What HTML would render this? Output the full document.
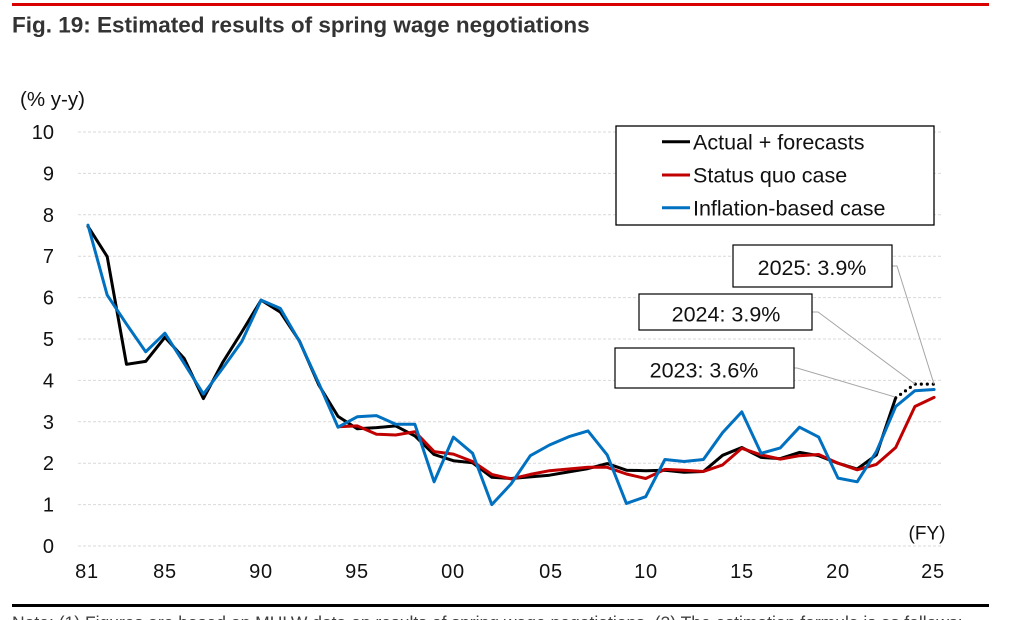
<!DOCTYPE html>
<html>
<head>
<meta charset="utf-8">
<style>
  html, body { margin: 0; padding: 0; background: #fff; }
  body { width: 1024px; height: 620px; overflow: hidden; }
  svg { display: block; }
  text { font-family: "Liberation Sans", Arial, sans-serif; }
</style>
</head>
<body>
<svg width="1024" height="620" viewBox="0 0 1024 620" xmlns="http://www.w3.org/2000/svg">
  <rect x="0" y="0" width="1024" height="620" fill="#fff"/>
  <!-- top red bar -->
  <rect x="12" y="3" width="977" height="3" fill="#d90000"/>
  <!-- title -->
  <text x="12" y="32.5" font-size="22.5" font-weight="bold" fill="#333">Fig. 19: Estimated results of spring wage negotiations</text>

  <!-- y-axis unit -->
  <text x="20" y="106" font-size="20.5" fill="#111">(% y-y)</text>

  <!-- gridlines -->
  <g stroke="#d9d9d9" stroke-width="1" stroke-dasharray="3 2">
    <line x1="78" y1="132" x2="943" y2="132"/>
    <line x1="78" y1="173.4" x2="943" y2="173.4"/>
    <line x1="78" y1="214.8" x2="943" y2="214.8"/>
    <line x1="78" y1="256.2" x2="943" y2="256.2"/>
    <line x1="78" y1="297.6" x2="943" y2="297.6"/>
    <line x1="78" y1="339" x2="943" y2="339"/>
    <line x1="78" y1="380.4" x2="943" y2="380.4"/>
    <line x1="78" y1="421.8" x2="943" y2="421.8"/>
    <line x1="78" y1="463.2" x2="943" y2="463.2"/>
    <line x1="78" y1="504.6" x2="943" y2="504.6"/>
    <line x1="78" y1="546" x2="943" y2="546"/>
  </g>

  <!-- y labels -->
  <g font-size="20" fill="#111" text-anchor="end">
    <text x="54" y="139">10</text>
    <text x="54" y="180.4">9</text>
    <text x="54" y="221.8">8</text>
    <text x="54" y="263.2">7</text>
    <text x="54" y="304.6">6</text>
    <text x="54" y="346">5</text>
    <text x="54" y="387.4">4</text>
    <text x="54" y="428.8">3</text>
    <text x="54" y="470.2">2</text>
    <text x="54" y="511.6">1</text>
    <text x="54" y="553">0</text>
  </g>

  <!-- x labels -->
  <g font-size="20" fill="#111" text-anchor="middle" letter-spacing="0.8">
    <text x="87" y="578">81</text>
    <text x="165" y="578">85</text>
    <text x="261" y="578">90</text>
    <text x="357" y="578">95</text>
    <text x="453" y="578">00</text>
    <text x="551" y="578">05</text>
    <text x="646" y="578">10</text>
    <text x="742" y="578">15</text>
    <text x="838" y="578">20</text>
    <text x="933" y="578">25</text>
  </g>
  <text x="927" y="539.5" font-size="19" fill="#111" text-anchor="middle">(FY)</text>

  <!-- series -->
  <g fill="none" stroke-width="3" stroke-linejoin="round" stroke-linecap="round">
    <polyline stroke="#000" points="88.0,226.4 107.2,256.6 126.5,364.3 145.7,361.4 164.9,337.3 184.2,358.5 203.4,398.6 222.6,362.6 241.8,332.0 261.1,300.1 280.3,312.1 299.5,341.1 318.8,385.0 338.0,416.4 357.2,428.8 376.5,427.6 395.7,425.9 414.9,435.9 434.1,454.5 453.4,460.7 472.6,462.8 491.8,477.3 511.1,478.5 530.3,476.9 549.5,475.2 568.8,471.9 588.0,468.6 607.2,463.6 626.4,470.2 645.7,470.7 664.9,470.2 684.1,472.3 703.4,471.5 722.6,455.3 741.8,447.5 761.1,457.4 780.3,458.6 799.5,452.4 818.7,455.7 838.0,463.2 857.2,469.0 876.4,454.9 895.7,397.8"/>
    <polyline stroke="#000" stroke-width="3.2" stroke-dasharray="0 6" points="895.7,397.8 914.9,384.1 934.1,384.1"/>
    <polyline stroke="#c00000" points="338.0,426.8 357.2,425.9 376.5,434.2 395.7,435.0 414.9,431.7 434.1,451.6 453.4,454.1 472.6,461.5 491.8,474.4 511.1,478.9 530.3,474.4 549.5,470.7 568.8,469.0 588.0,467.3 607.2,467.3 626.4,474.0 645.7,478.5 664.9,469.4 684.1,470.2 703.4,471.5 722.6,464.9 741.8,448.3 761.1,454.9 780.3,459.1 799.5,455.7 818.7,454.5 838.0,463.2 857.2,469.8 876.4,464.4 895.7,447.5 914.9,406.5 934.1,397.4"/>
    <polyline stroke="#0070c0" points="88.0,225.1 107.2,295.1 126.5,324.1 145.7,351.8 164.9,333.2 184.2,363.4 203.4,394.1 222.6,368.4 241.8,341.5 261.1,300.1 280.3,308.4 299.5,341.5 318.8,383.3 338.0,427.2 357.2,416.8 376.5,415.6 395.7,424.3 414.9,424.3 434.1,481.8 453.4,437.1 472.6,453.3 491.8,504.6 511.1,483.9 530.3,455.7 549.5,445.0 568.8,436.7 588.0,430.9 607.2,454.9 626.4,503.4 645.7,496.7 664.9,459.5 684.1,461.5 703.4,459.5 722.6,432.6 741.8,411.9 761.1,453.3 780.3,447.9 799.5,427.2 818.7,437.1 838.0,478.1 857.2,481.8 876.4,451.6 895.7,406.5 914.9,390.7 934.1,389.5"/>
  </g>

  <!-- leader lines -->
  <g fill="none" stroke="#a6a6a6" stroke-width="1">
    <polyline points="892,266 897,266 934,384"/>
    <polyline points="812,312 818,312 915,384"/>
    <polyline points="794,368 797,368 895,397"/>
  </g>

  <!-- annotation boxes -->
  <g fill="#fff" stroke="#000" stroke-width="1.2">
    <rect x="733" y="245" width="159" height="42"/>
    <rect x="639" y="294" width="173" height="36"/>
    <rect x="615" y="348" width="179" height="40"/>
  </g>
  <g font-size="21.5" fill="#111" text-anchor="middle">
    <text x="812" y="275">2025: 3.9%</text>
    <text x="726" y="321.5">2024: 3.9%</text>
    <text x="704" y="377.5">2023: 3.6%</text>
  </g>

  <!-- legend -->
  <rect x="616" y="126" width="318" height="99" fill="#fff" stroke="#000" stroke-width="1.3"/>
  <g stroke-width="3">
    <line x1="662" y1="141.7" x2="690" y2="141.7" stroke="#000"/>
    <line x1="662" y1="175" x2="690" y2="175" stroke="#c00000"/>
    <line x1="662" y1="207.7" x2="690" y2="207.7" stroke="#0070c0"/>
  </g>
  <g font-size="21.5" fill="#111">
    <text x="693" y="149.3">Actual + forecasts</text>
    <text x="693" y="182.6">Status quo case</text>
    <text x="693" y="215.3">Inflation-based case</text>
  </g>

  <!-- bottom rule and note -->
  <rect x="12" y="604" width="977" height="3" fill="#000"/>
  <text x="12" y="628.5" font-size="17.5" fill="#404040">Note: (1) Figures are based on MHLW data on results of spring wage negotiations. (2) The estimation formula is as follows:</text>
</svg>
</body>
</html>
